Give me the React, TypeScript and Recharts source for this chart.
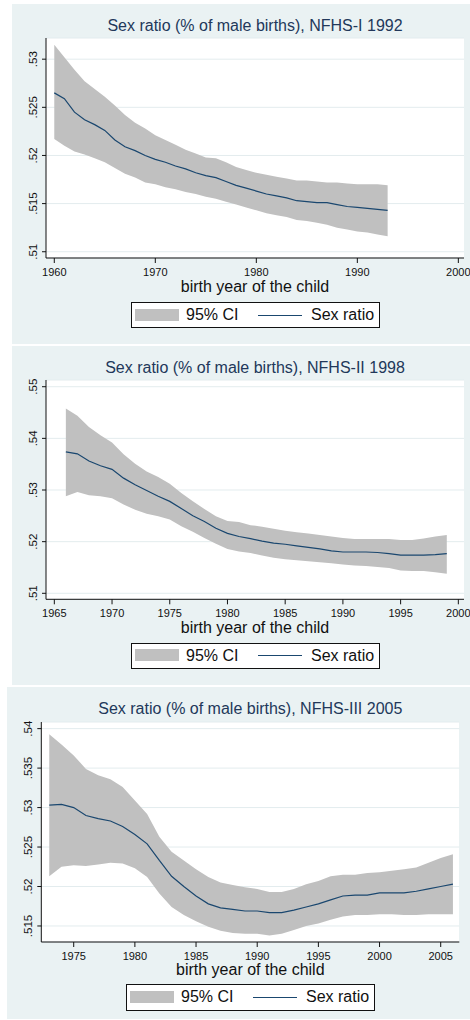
import React from 'react';
import { ComposedChart, Area, Line, XAxis, YAxis, CartesianGrid } from 'recharts';

const FONT = '"Liberation Sans", Arial, Helvetica, sans-serif';
const BAND = '#C0C0C0';
const NAVY = '#1a476f';
const BG = '#EAF2F3';
const TITLE_COLOR = '#22385a';

// ---------- Panel 1: NFHS-I 1992 ----------
const years1 = [1960, 1961, 1962, 1963, 1964, 1965, 1966, 1967, 1968, 1969, 1970, 1971, 1972, 1973, 1974, 1975, 1976, 1977, 1978, 1979, 1980, 1981, 1982, 1983, 1984, 1985, 1986, 1987, 1988, 1989, 1990, 1991, 1992, 1993];
const ratio1 = [0.5265, 0.5259, 0.5245, 0.5237, 0.5232, 0.5226, 0.5216, 0.5209, 0.5205, 0.5200, 0.5196, 0.5193, 0.5189, 0.5186, 0.5182, 0.5179, 0.5177, 0.5173, 0.5169, 0.5166, 0.5163, 0.5160, 0.5158, 0.5156, 0.5153, 0.5152, 0.5151, 0.5151, 0.5149, 0.5147, 0.5146, 0.5145, 0.5144, 0.5143];
const upper1 = [0.5315, 0.5302, 0.5289, 0.5277, 0.5269, 0.5261, 0.5252, 0.5242, 0.5234, 0.5228, 0.5221, 0.5216, 0.5211, 0.5206, 0.5202, 0.5198, 0.5197, 0.5193, 0.5188, 0.5185, 0.5182, 0.5180, 0.5178, 0.5176, 0.5174, 0.5174, 0.5173, 0.5172, 0.5172, 0.5171, 0.5170, 0.5170, 0.5170, 0.5169];
const lower1 = [0.5217, 0.5210, 0.5204, 0.5201, 0.5197, 0.5193, 0.5187, 0.5181, 0.5177, 0.5172, 0.5170, 0.5167, 0.5165, 0.5162, 0.5160, 0.5157, 0.5155, 0.5152, 0.5149, 0.5146, 0.5143, 0.5140, 0.5138, 0.5136, 0.5133, 0.5132, 0.5130, 0.5128, 0.5125, 0.5123, 0.5121, 0.5120, 0.5118, 0.5116];
const xTicks1 = [1960, 1970, 1980, 1990, 2000];
const yTicks1 = [0.51, 0.515, 0.52, 0.525, 0.53];

// ---------- Panel 2: NFHS-II 1998 ----------
const years2 = [1966, 1967, 1968, 1969, 1970, 1971, 1972, 1973, 1974, 1975, 1976, 1977, 1978, 1979, 1980, 1981, 1982, 1983, 1984, 1985, 1986, 1987, 1988, 1989, 1990, 1991, 1992, 1993, 1994, 1995, 1996, 1997, 1998, 1999];
const ratio2 = [0.5374, 0.5370, 0.5356, 0.5347, 0.5340, 0.5323, 0.5310, 0.5299, 0.5288, 0.5278, 0.5264, 0.5250, 0.5239, 0.5226, 0.5216, 0.5210, 0.5206, 0.5201, 0.5197, 0.5195, 0.5192, 0.5189, 0.5186, 0.5182, 0.5180, 0.5180, 0.5180, 0.5179, 0.5177, 0.5174, 0.5174, 0.5174, 0.5175, 0.5177];
const upper2 = [0.5458, 0.5444, 0.5422, 0.5406, 0.5392, 0.5369, 0.5351, 0.5336, 0.5325, 0.5312, 0.5294, 0.5278, 0.5263, 0.5249, 0.5240, 0.5238, 0.5232, 0.5229, 0.5225, 0.5221, 0.5218, 0.5216, 0.5213, 0.5210, 0.5207, 0.5205, 0.5205, 0.5205, 0.5205, 0.5203, 0.5203, 0.5206, 0.5210, 0.5213];
const lower2 = [0.5288, 0.5296, 0.5290, 0.5288, 0.5284, 0.5272, 0.5262, 0.5254, 0.5249, 0.5243, 0.5230, 0.5219, 0.5207, 0.5196, 0.5186, 0.5181, 0.5178, 0.5173, 0.5169, 0.5166, 0.5164, 0.5162, 0.5160, 0.5158, 0.5156, 0.5154, 0.5153, 0.5151, 0.5149, 0.5144, 0.5143, 0.5143, 0.5141, 0.5138];
const xTicks2 = [1965, 1970, 1975, 1980, 1985, 1990, 1995, 2000];
const yTicks2 = [0.51, 0.52, 0.53, 0.54, 0.55];

// ---------- Panel 3: NFHS-III 2005 ----------
const years3 = [1973, 1974, 1975, 1976, 1977, 1978, 1979, 1980, 1981, 1982, 1983, 1984, 1985, 1986, 1987, 1988, 1989, 1990, 1991, 1992, 1993, 1994, 1995, 1996, 1997, 1998, 1999, 2000, 2001, 2002, 2003, 2004, 2005, 2006];
const ratio3 = [0.5303, 0.5304, 0.5300, 0.5290, 0.5286, 0.5283, 0.5276, 0.5266, 0.5254, 0.5233, 0.5213, 0.5200, 0.5188, 0.5178, 0.5173, 0.5171, 0.5169, 0.5169, 0.5167, 0.5167, 0.5170, 0.5174, 0.5178, 0.5183, 0.5188, 0.5189, 0.5189, 0.5192, 0.5192, 0.5192, 0.5194, 0.5197, 0.5200, 0.5203];
const upper3 = [0.5393, 0.5380, 0.5366, 0.5349, 0.5341, 0.5336, 0.5326, 0.5309, 0.5292, 0.5263, 0.5244, 0.5233, 0.5222, 0.5212, 0.5205, 0.5202, 0.5199, 0.5197, 0.5193, 0.5193, 0.5197, 0.5203, 0.5207, 0.5213, 0.5215, 0.5215, 0.5217, 0.5218, 0.5220, 0.5222, 0.5224, 0.5230, 0.5236, 0.5241];
const lower3 = [0.5213, 0.5225, 0.5227, 0.5226, 0.5228, 0.5230, 0.5229, 0.5223, 0.5212, 0.5191, 0.5174, 0.5164, 0.5156, 0.5149, 0.5144, 0.5141, 0.5140, 0.5140, 0.5138, 0.5140, 0.5145, 0.5150, 0.5153, 0.5158, 0.5162, 0.5164, 0.5164, 0.5165, 0.5165, 0.5164, 0.5164, 0.5165, 0.5165, 0.5165];
const xTicks3 = [1975, 1980, 1985, 1990, 1995, 2000, 2005];
const yTicks3 = [0.515, 0.52, 0.525, 0.53, 0.535, 0.54];

const titles = [
  'Sex ratio (% of male births), NFHS-I 1992',
  'Sex ratio (% of male births), NFHS-II 1998',
  'Sex ratio (% of male births), NFHS-III 2005',
];
const xLabel = 'birth year of the child';
const legendLabels = ['95% CI', 'Sex ratio'];

type Box = { l: number; r: number; t: number; b: number };

const fmt = (v: number) => String(v).replace(/^0/, '');

const YTick = (props: any) => {
  const { x, y, payload } = props;
  return (
    <text
      x={0}
      y={0}
      transform={`translate(${x - 5},${y}) rotate(-90)`}
      textAnchor="middle"
      fontSize={11.5}
      fill="#111"
      fontFamily={FONT}
    >
      {fmt(payload.value)}
    </text>
  );
};

type PanelProps = {
  title: string;
  years: number[];
  ratio: number[];
  lower: number[];
  upper: number[];
  xDomain: [number, number];
  xTicks: number[];
  yDomain: [number, number];
  yTicks: number[];
  bg: { x: number; y: number; w: number; h: number };
  plot: Box;
  titleY: number;
  axisY: number;
  legend: Box;
};

const Panel = (p: PanelProps) => {
  const data = p.years.map((yr, i) => ({ year: yr, sr: p.ratio[i], ci: [p.lower[i], p.upper[i]] }));
  const topPad = 10;
  const xAxisH = 26;
  const chartTop = p.plot.t - topPad;
  const chartH = p.plot.b - p.plot.t + topPad + xAxisH;
  const plotW = p.plot.r - p.plot.l;
  const lw = p.legend.r - p.legend.l;
  const lh = p.legend.b - p.legend.t;
  return (
    <>
      <div style={{ position: 'absolute', left: p.bg.x, top: p.bg.y, width: p.bg.w, height: p.bg.h, background: BG }} />
      <div
        style={{
          position: 'absolute', left: p.plot.l, top: p.plot.t, width: plotW, height: p.plot.b - p.plot.t, background: '#fff',
        }}
      />
      <div style={{ position: 'absolute', left: 0, top: chartTop }}>
        <ComposedChart
          width={470}
          height={chartH}
          data={data}
          margin={{ top: topPad, right: 470 - p.plot.r, bottom: 0, left: 0 }}
        >
          <CartesianGrid horizontal vertical={false} stroke="#E3ECEE" strokeWidth={1} />
          <XAxis
            dataKey="year"
            type="number"
            domain={p.xDomain}
            ticks={p.xTicks}
            allowDataOverflow
            height={xAxisH}
            tickSize={5}
            tickMargin={5}
            interval={0}
            stroke="#111"
            tick={{ fontSize: 11, fill: '#111', fontFamily: FONT }}
          />
          <YAxis
            type="number"
            domain={p.yDomain}
            ticks={p.yTicks}
            allowDataOverflow
            width={p.plot.l}
            tickSize={4}
            tickMargin={0}
            interval={0}
            stroke="#111"
            tick={<YTick />}
          />
          <Area
            dataKey="ci"
            type="linear"
            fill={BAND}
            fillOpacity={1}
            stroke="none"
            isAnimationActive={false}
            dot={false}
            activeDot={false}
          />
          <Line
            dataKey="sr"
            type="linear"
            stroke={NAVY}
            strokeWidth={1.2}
            dot={false}
            activeDot={false}
            isAnimationActive={false}
          />
        </ComposedChart>
      </div>
      <div
        style={{
          position: 'absolute', left: p.plot.l - 40, width: plotW + 80, top: p.titleY - 8, lineHeight: '16px',
          fontSize: 16, fontFamily: FONT, color: TITLE_COLOR, textAlign: 'center', whiteSpace: 'nowrap',
        }}
      >
        {p.title}
      </div>
      <div
        style={{
          position: 'absolute', left: p.plot.l, width: plotW, top: p.axisY - 6, lineHeight: '14px', height: 14,
          fontSize: 16, fontFamily: FONT, color: '#111', textAlign: 'center', whiteSpace: 'nowrap',
        }}
      >
        {xLabel}
      </div>
      <div
        style={{
          position: 'absolute', left: p.legend.l, top: p.legend.t, width: lw, height: lh, boxSizing: 'border-box',
          border: '1px solid #111', background: '#fff', fontFamily: FONT, fontSize: 16, color: '#111',
        }}
      >
        <div style={{ position: 'absolute', left: 3, top: lh / 2 - 7.5, width: 44, height: 12, background: BAND }} />
        <div style={{ position: 'absolute', left: 54, top: lh / 2 - 9, lineHeight: '16px', whiteSpace: 'nowrap' }}>
          {legendLabels[0]}
        </div>
        <div style={{ position: 'absolute', left: 126, top: lh / 2 - 1.5, width: 44, height: 1.2, background: NAVY }} />
        <div style={{ position: 'absolute', left: 179, top: lh / 2 - 9, lineHeight: '16px', whiteSpace: 'nowrap' }}>
          {legendLabels[1]}
        </div>
      </div>
    </>
  );
};

export default function App() {
  return (
    <div style={{ position: 'absolute', left: 0, top: 0, width: 470, height: 1020, background: '#fff', overflow: 'hidden' }}>
      <Panel
        title={titles[0]}
        years={years1}
        ratio={ratio1}
        lower={lower1}
        upper={upper1}
        xDomain={[1959.18, 2000.56]}
        xTicks={xTicks1}
        yDomain={[0.50935, 0.5322]}
        yTicks={yTicks1}
        bg={{ x: 12, y: 4, w: 458, h: 340 }}
        plot={{ l: 46, r: 464, t: 38, b: 258 }}
        titleY={26}
        axisY={286}
        legend={{ l: 131, r: 380, t: 302, b: 328 }}
      />
      <Panel
        title={titles[1]}
        years={years2}
        ratio={ratio2}
        lower={lower2}
        upper={upper2}
        xDomain={[1964.28, 2000.49]}
        xTicks={xTicks2}
        yDomain={[0.50884, 0.5513]}
        yTicks={yTicks2}
        bg={{ x: 12, y: 346, w: 458, h: 339 }}
        plot={{ l: 46, r: 464, t: 380, b: 599.3 }}
        titleY={368.3}
        axisY={627.3}
        legend={{ l: 131, r: 380, t: 643, b: 668.5 }}
      />
      <Panel
        title={titles[2]}
        years={years3}
        ratio={ratio3}
        lower={lower3}
        upper={upper3}
        xDomain={[1972.35, 2006.52]}
        xTicks={xTicks3}
        yDomain={[0.51297, 0.54084]}
        yTicks={yTicks3}
        bg={{ x: 7, y: 687, w: 463, h: 332 }}
        plot={{ l: 41.3, r: 459.3, t: 721.7, b: 941.7 }}
        titleY={709.3}
        axisY={969.3}
        legend={{ l: 126, r: 375.3, t: 984.3, b: 1010.7 }}
      />
    </div>
  );
}
